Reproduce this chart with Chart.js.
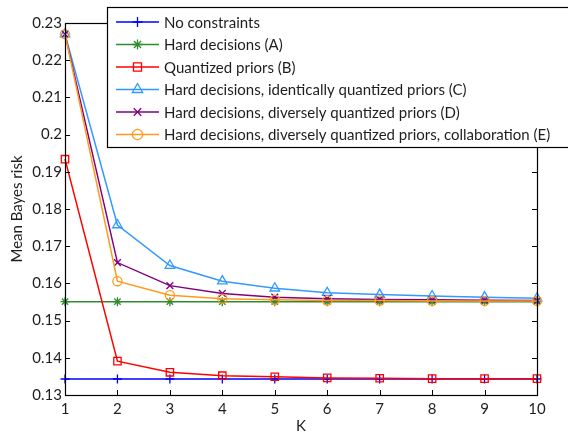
<!DOCTYPE html>
<html>
<head>
<meta charset="utf-8">
<script src="https://cdn.jsdelivr.net/npm/chart.js@4/dist/chart.umd.min.js"></script>
<style>
  body { margin: 0; background: #fff; }
  #wrap { width: 568px; height: 434px; }
</style>
</head>
<body>
<div id="wrap"><canvas id="myChart"></canvas></div>
<script>
// K values along the x axis
const K = [1, 2, 3, 4, 5, 6, 7, 8, 9, 10];

// Mean Bayes risk for each scheme
const noConstraints = [0.1343, 0.1343, 0.1343, 0.1343, 0.1343, 0.1343, 0.1343, 0.1343, 0.1343, 0.1343];
const hardDecisions = [0.1551, 0.1551, 0.1551, 0.1551, 0.1551, 0.1551, 0.1551, 0.1551, 0.1551, 0.1551];
const quantizedPriors = [0.1934, 0.1391, 0.1361, 0.1352, 0.1349, 0.1346, 0.1345, 0.1344, 0.1344, 0.1344];
const identicalPriors = [0.2270, 0.1757, 0.1648, 0.1606, 0.1587, 0.1575, 0.1570, 0.1566, 0.1563, 0.1560];
const diversePriors = [0.2270, 0.1656, 0.1594, 0.1573, 0.1563, 0.1559, 0.1557, 0.1556, 0.1555, 0.1554];
const collaboration = [0.2270, 0.1606, 0.1568, 0.1559, 0.1556, 0.1554, 0.1554, 0.1553, 0.1553, 0.1553];

// y axis tick values
const yTicks = [0.13, 0.14, 0.15, 0.16, 0.17, 0.18, 0.19, 0.2, 0.21, 0.22, 0.23];

const FONT = 'Lato, "Open Sans", sans-serif';
const TEXT = '#1e1e1e';

function series(label, values, color, style, radius, order) {
    return {
        label: label,
        data: values.map((v, i) => ({ x: K[i], y: v })),
        borderColor: color,
        backgroundColor: 'transparent',
        pointBackgroundColor: 'transparent',
        pointBorderColor: color,
        pointStyle: style,
        pointRadius: radius,
        pointBorderWidth: 1.3,
        borderWidth: 1.5,
        tension: 0,
        clip: false,
        order: order
    };
}

const datasets = [
    series('No constraints', noConstraints, '#0000ff', 'cross', 4.5, 5),
    series('Hard decisions (A)', hardDecisions, '#2e8b2e', 'star', 4.5, 4),
    series('Quantized priors (B)', quantizedPriors, '#ff0000', 'rect', 5.2, 3),
    series('Hard decisions, identically quantized priors (C)', identicalPriors, '#3399ff', 'triangle', 5.5, 2),
    series('Hard decisions, diversely quantized priors (D)', diversePriors, '#800080', 'crossRot', 4.8, 1),
    series('Hard decisions, diversely quantized priors, collaboration (E)', collaboration, '#ff9a1f', 'circle', 4.6, 0)
];

// axes box with inward ticks, drawn over the lines like the original
const framePlugin = {
    id: 'frame',
    afterDatasetsDraw(chart) {
        const { ctx, chartArea: a, scales } = chart;
        ctx.save();
        ctx.strokeStyle = '#000';
        ctx.lineWidth = 1;
        ctx.beginPath();
        yTicks.forEach(t => {
            const y = Math.round(scales.y.getPixelForValue(t)) + 0.5;
            ctx.moveTo(a.left, y); ctx.lineTo(a.left + 5, y);
            ctx.moveTo(a.right, y); ctx.lineTo(a.right - 5, y);
        });
        K.forEach(k => {
            const x = Math.round(scales.x.getPixelForValue(k)) + 0.5;
            ctx.moveTo(x, a.bottom); ctx.lineTo(x, a.bottom - 5);
            ctx.moveTo(x, a.top); ctx.lineTo(x, a.top + 5);
        });
        ctx.stroke();
        ctx.lineWidth = 1.2;
        ctx.strokeRect(Math.round(a.left) + 0.5, Math.round(a.top) + 0.5,
            Math.round(a.right - a.left), Math.round(a.bottom - a.top));
        ctx.restore();
    }
};

// legend box with a line and marker per entry
const legendPlugin = {
    id: 'boxLegend',
    afterDraw(chart) {
        const ctx = chart.ctx;
        const left = 107, top = 7, right = 575, bottom = 147;
        ctx.save();
        ctx.fillStyle = '#fff';
        ctx.fillRect(left, top, right - left, bottom - top);
        ctx.strokeStyle = '#000';
        ctx.lineWidth = 1.2;
        ctx.strokeRect(left + 0.5, top + 0.5, right - left, bottom - top);
        ctx.font = '15px ' + FONT;
        ctx.textBaseline = 'middle';
        datasets.forEach((ds, i) => {
            const y = 22 + i * 22.5;
            ctx.strokeStyle = ds.borderColor;
            ctx.lineWidth = ds.borderWidth;
            ctx.beginPath();
            ctx.moveTo(116, y); ctx.lineTo(159, y);
            ctx.stroke();
            ctx.fillStyle = 'transparent';
            ctx.lineWidth = ds.pointBorderWidth;
            Chart.helpers.drawPoint(ctx, {
                pointStyle: ds.pointStyle,
                radius: ds.pointRadius + 0.5,
                rotation: 0,
                borderWidth: ds.pointBorderWidth
            }, 137.5, y);
            ctx.fillStyle = TEXT;
            ctx.fillText(ds.label, 164, y + 1);
        });
        ctx.restore();
    }
};

new Chart(document.getElementById('myChart'), {
    type: 'line',
    data: { datasets: datasets },
    options: {
        responsive: true,
        maintainAspectRatio: false,
        animation: false,
        layout: { padding: { top: 23, right: 31, left: 0, bottom: 0 } },
        plugins: {
            legend: { display: false },
            tooltip: { enabled: false }
        },
        scales: {
            x: {
                type: 'linear',
                min: 1,
                max: 10,
                grid: { display: false, drawTicks: false },
                border: { display: false },
                ticks: {
                    stepSize: 1,
                    padding: 5,
                    color: TEXT,
                    font: { family: FONT, size: 15 },
                    maxRotation: 0
                },
                title: {
                    display: true,
                    text: 'K',
                    color: TEXT,
                    font: { family: FONT, size: 15, lineHeight: 1 },
                    padding: 0
                },
                afterFit(scale) { scale.height = 39; }
            },
            y: {
                min: 0.13,
                max: 0.23,
                grid: { display: false, drawTicks: false },
                border: { display: false },
                ticks: {
                    stepSize: 0.01,
                    padding: 3,
                    color: TEXT,
                    font: { family: FONT, size: 15 },
                    callback: v => String(+v.toFixed(2))
                },
                title: {
                    display: true,
                    text: 'Mean Bayes risk',
                    color: TEXT,
                    font: { family: FONT, size: 15, lineHeight: 1 },
                    padding: { top: 10 }
                },
                afterFit(scale) { scale.width = 65; }
            }
        }
    },
    plugins: [framePlugin, legendPlugin]
});
</script>
</body>
</html>
